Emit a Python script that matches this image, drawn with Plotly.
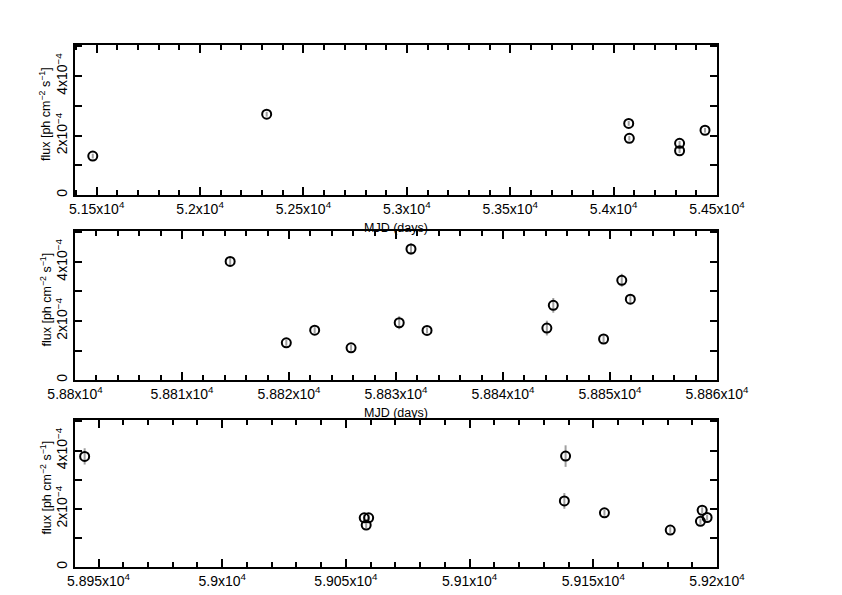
import numpy as np
import plotly.graph_objects as go

# ---- data (MJD, flux, flux error) ----
mjd1 = [51481, 52322, 54073, 54076, 54319, 54319, 54442]
flux1 = [1.31e-4, 2.72e-4, 2.41e-4, 1.91e-4, 1.74e-4, 1.49e-4, 2.18e-4]
err1 = [0.08e-4, 0.08e-4, 0.08e-4, 0.08e-4, 0.08e-4, 0.08e-4, 0.08e-4]

mjd2 = [58814.5, 58819.75, 58822.4, 58825.8, 58830.3, 58831.4, 58832.9,
        58844.1, 58844.7, 58849.4, 58851.1, 58851.9]
flux2 = [4.02e-4, 1.26e-4, 1.69e-4, 1.09e-4, 1.94e-4, 4.44e-4, 1.68e-4,
         1.76e-4, 2.53e-4, 1.39e-4, 3.38e-4, 2.74e-4]
err2 = [0.12e-4, 0.10e-4, 0.10e-4, 0.10e-4, 0.22e-4, 0.19e-4, 0.10e-4,
        0.25e-4, 0.25e-4, 0.12e-4, 0.22e-4, 0.15e-4]

mjd3 = [58944.4, 59057.4, 59059.2, 59058.2, 59138.8, 59138.3, 59154.5,
        59181.1, 59194.0, 59193.3, 59196.0]
flux3 = [3.80e-4, 1.69e-4, 1.69e-4, 1.44e-4, 3.81e-4, 2.27e-4, 1.86e-4,
         1.27e-4, 1.95e-4, 1.57e-4, 1.70e-4]
err3 = [0.28e-4, 0.10e-4, 0.10e-4, 0.10e-4, 0.37e-4, 0.27e-4, 0.10e-4,
        0.10e-4, 0.10e-4, 0.10e-4, 0.10e-4]

# ---- tick labels ----
xt1 = [51500, 52000, 52500, 53000, 53500, 54000, 54500]
xl1 = ["5.15", "5.2", "5.25", "5.3", "5.35", "5.4", "5.45"]
xt2 = [58800, 58810, 58820, 58830, 58840, 58850, 58860]
xl2 = ["5.88", "5.881", "5.882", "5.883", "5.884", "5.885", "5.886"]
xt3 = [58950, 59000, 59050, 59100, 59150, 59200]
xl3 = ["5.895", "5.9", "5.905", "5.91", "5.915", "5.92"]
yt = [0, 2e-4, 4e-4]
yl = ["0", "2x10<sup>\u22124</sup>", "4x10<sup>\u22124</sup>"]

panels = [
    (mjd1, flux1, err1, xt1, xl1, [51395, 54500], 100, (45, 195)),
    (mjd2, flux2, err2, xt2, xl2, [58800, 58860], 2, (231, 380)),
    (mjd3, flux3, err3, xt3, xl3, [58940.5, 59200], 10, (420, 567)),
]

W, H = 842, 595
L, R = 75, 717
FONT = "Liberation Sans"

fig = go.Figure()
annotations = []
for i, (x, y, e, xt, xl, xr, mdt, (ytop, ybot)) in enumerate(panels):
    n = "" if i == 0 else str(i + 1)
    fig.add_trace(go.Scatter(
        x=x, y=y, mode="markers",
        xaxis="x" + n, yaxis="y" + n,
        error_y=dict(type="data", array=e, visible=True, color="#a0a0a0",
                     thickness=2, width=0),
        marker=dict(symbol="circle-open", size=9, color="black",
                    line=dict(width=2, color="black")),
        showlegend=False,
    ))
    minor_x = list(np.arange(xt[0] - mdt * 10, xt[-1] + mdt * 10, mdt))
    fig.update_layout(**{
        "xaxis" + n: dict(
            domain=[L / W, R / W], anchor="y" + n, range=xr,
            automargin=False,
            tickmode="array", tickvals=xt,
            ticktext=[s + "x10<sup>4</sup>" for s in xl],
            ticks="inside", ticklen=8, tickwidth=2, tickcolor="black",
            showline=True, linewidth=2, linecolor="black", mirror="ticks",
            showgrid=False, zeroline=False,
            minor=dict(tickvals=minor_x, ticks="inside", ticklen=5,
                       tickwidth=1.5, tickcolor="black", showgrid=False),
            tickfont=dict(family=FONT, size=14, color="black"),
        ),
        "yaxis" + n: dict(
            domain=[1 - ybot / H, 1 - ytop / H], anchor="x" + n,
            range=[0, 5.05e-4], automargin=False,
            tickmode="array", tickvals=yt, ticktext=yl, tickangle=-90,
            ticks="inside", ticklen=7, tickwidth=2, tickcolor="black",
            showline=True, linewidth=2, linecolor="black", mirror="ticks",
            showgrid=False, zeroline=False,
            minor=dict(tickvals=[1e-4, 3e-4, 5e-4], ticks="inside", ticklen=7,
                       tickwidth=1.5, tickcolor="black", showgrid=False),
            tickfont=dict(family=FONT, size=14, color="black"),
        ),
    })
    annotations.append(dict(
        text="flux [ph cm<sup>\u22122</sup> s<sup>\u22121</sup>]", textangle=-90,
        xref="paper", yref="paper", x=45 / W, y=1 - ((ytop + ybot) / 2 - 6) / H,
        xanchor="center", yanchor="middle",
        showarrow=False, font=dict(family=FONT, size=12.5, color="black"),
    ))
    if i < 2:
        annotations.append(dict(
            text="MJD (days)", xref="paper", yref="paper",
            x=(L + R) / 2 / W, y=1 - (ybot + 33) / H,
            xanchor="center", yanchor="middle",
            showarrow=False, font=dict(family=FONT, size=12.5, color="black"),
        ))

fig.update_layout(
    template="none",
    width=W, height=H,
    margin=dict(l=0, r=0, t=0, b=0, pad=0),
    paper_bgcolor="white", plot_bgcolor="white",
    annotations=annotations,
)

fig.write_html("out.html", config={"displayModeBar": False},
               post_script="document.body.style.margin='0';")
